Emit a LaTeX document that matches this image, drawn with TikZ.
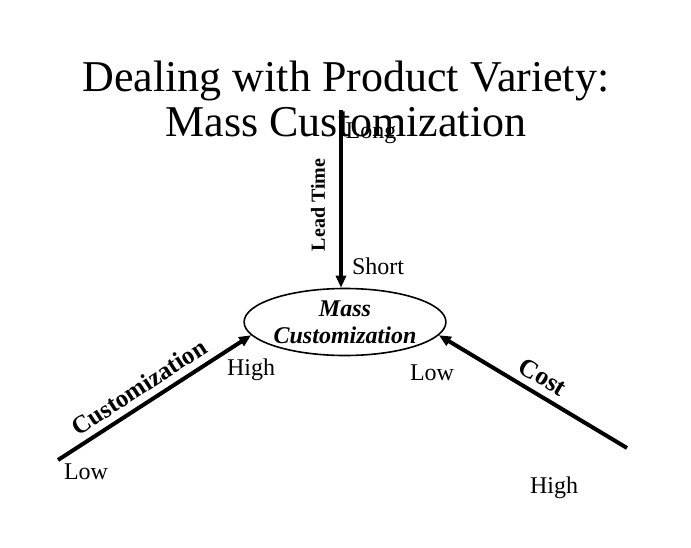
\documentclass[tikz,border=0pt]{standalone}
\usepackage{fontspec}
\setmainfont{Liberation Serif}
\usetikzlibrary{shapes.geometric,arrows.meta}
\tikzset{
  axisline/.style={line width=2pt, -{Triangle[length=6pt,width=5pt]}},
  endlabel/.style={font=\fontsize{12}{14}\selectfont, inner sep=0pt},
  axisname/.style={font=\fontsize{10}{12}\selectfont\bfseries, inner sep=0pt},
}
\begin{document}
\begin{tikzpicture}[x=0.5pt, y=-0.5pt]
  \useasboundingbox (0,0) rectangle (691,547);
  \node[align=center, font=\fontsize{22}{22.5}\selectfont, inner sep=0pt] (title) at (346,99)
    {Dealing with Product Variety:\\Mass Customization};
  \node[ellipse, draw, thick, minimum width=98pt, minimum height=33.5pt, inner sep=0pt,
        align=center, font=\fontsize{12}{13.5}\selectfont\bfseries\itshape] (mc) at (345,322)
    {Mass\\Customization};
  \coordinate (ltop) at (341,110);
  \coordinate (clow) at (58,460);
  \coordinate (costhigh) at (627,448);
  % lead time axis
  \draw[axisline] (ltop) -- (mc.north -| ltop);
  \node[endlabel] (long) at (371,133) {Long};
  \node[endlabel] (short) at (378,266) {Short};
  \node[axisname, rotate=90] (leadtime) at (318,205) {Lead Time};
  % customization axis
  \draw[axisline] (clow) -- (mc.188);
  \node[endlabel] (custlow) at (86,472) {Low};
  \node[endlabel] (custhigh) at (251,370) {High};
  \node[axisname, font=\fontsize{12.5}{14}\selectfont\bfseries, rotate=33] (custname) at (139,387) {Customization};
  % cost axis
  \draw[axisline] (costhigh) -- (mc.352);
  \node[endlabel] (costlow) at (432,373) {Low};
  \node[endlabel] (costhi) at (554,488) {High};
  \node[axisname, font=\fontsize{13}{15}\selectfont\bfseries, rotate=-31] (costname) at (543,377) {Cost};
\end{tikzpicture}
\end{document}
